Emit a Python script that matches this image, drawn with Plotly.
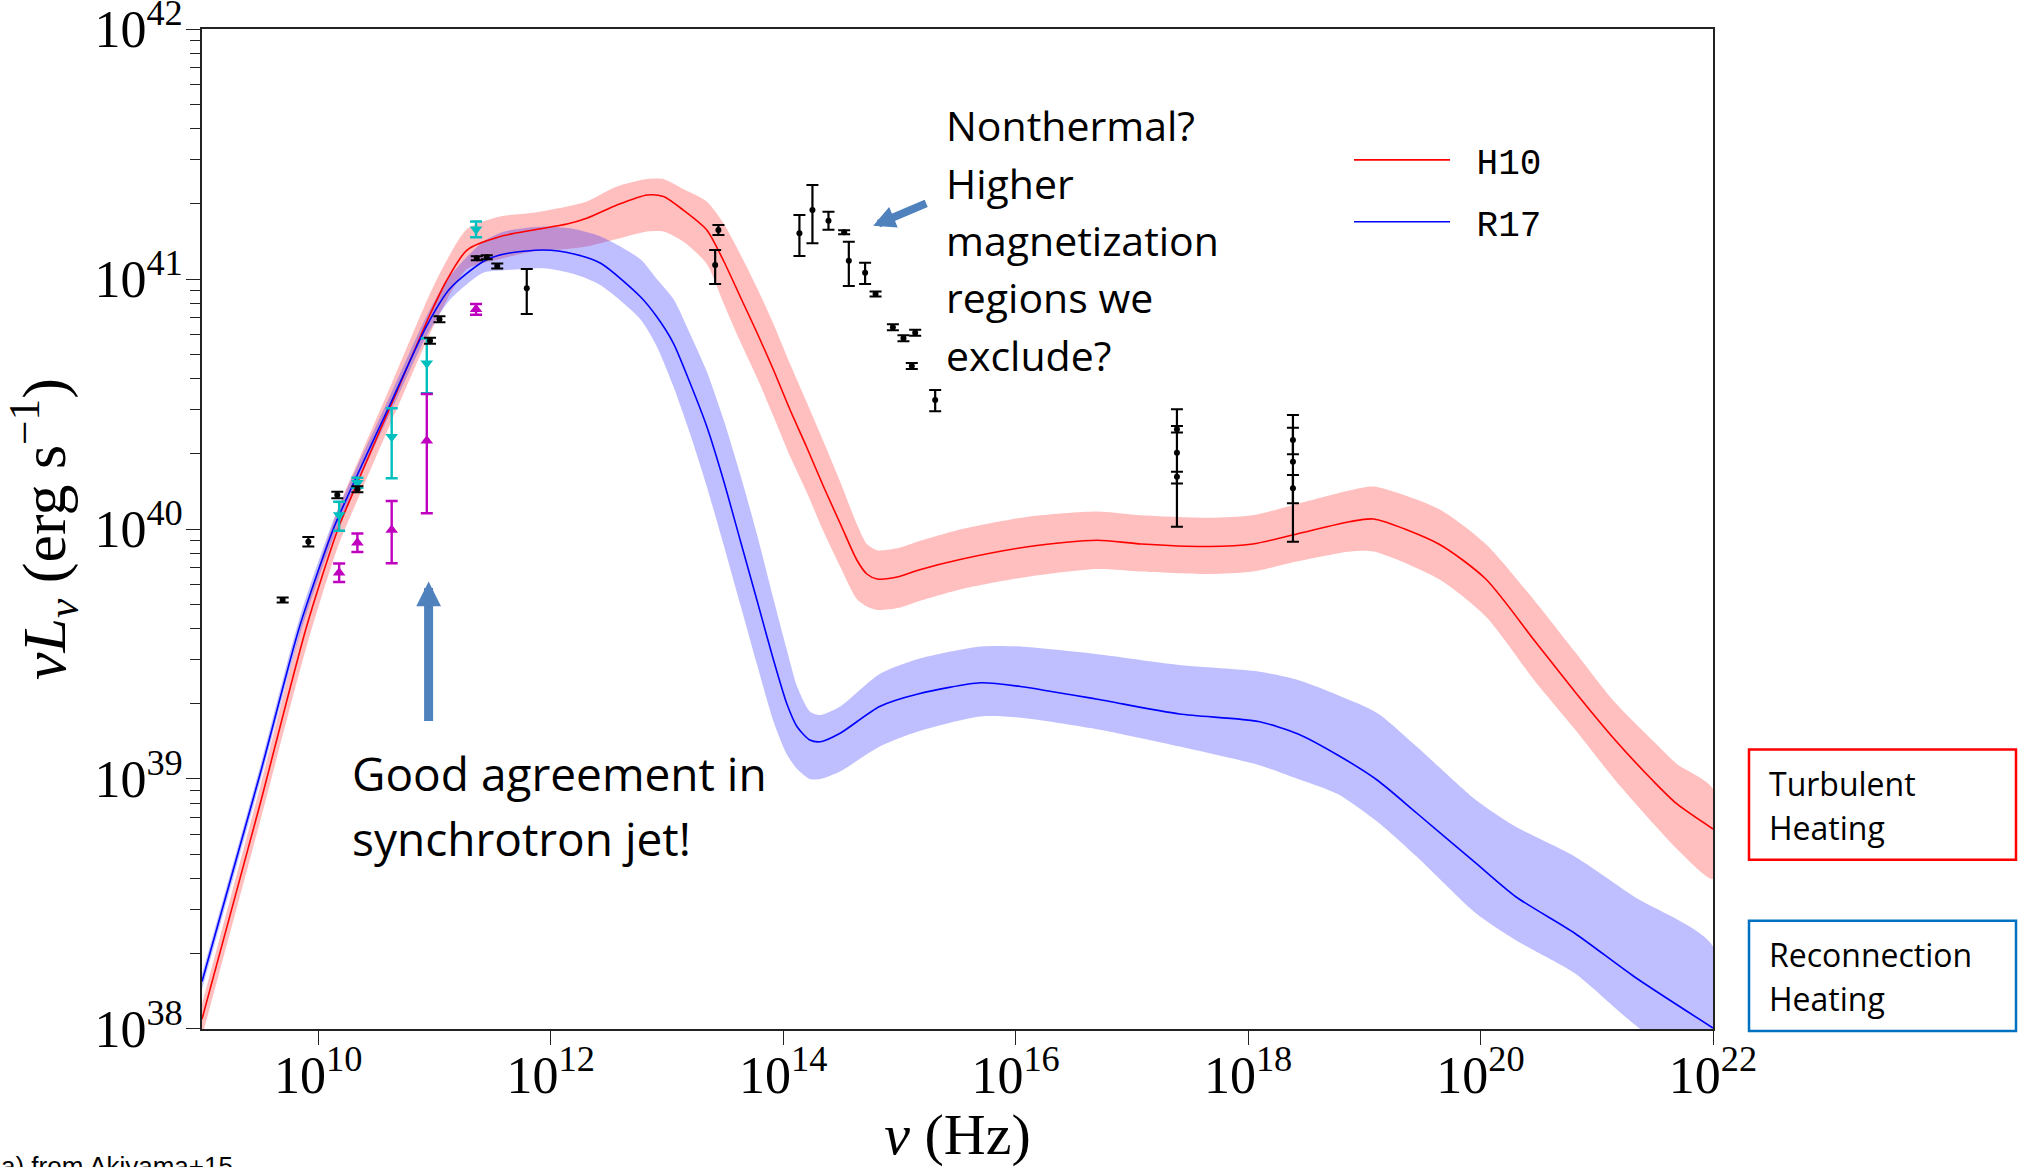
import plotly.graph_objects as go

# ---------------- data (log10 units) ----------------
# H10 model (turbulent heating): log10(nu/Hz), centre, band upper, band lower (log10 erg/s)
h10_lognu = [9.00, 9.50, 9.90, 10.17, 10.36, 10.63, 10.96, 11.10, 11.28, 11.565, 11.85, 12.14,
             12.31, 12.57, 12.83, 12.97, 13.14, 13.343, 13.49, 13.63, 13.78, 13.917, 14.06,
             14.20, 14.347, 14.49, 14.634, 14.72, 14.81, 15.00, 15.16, 15.54, 16.12, 16.70,
             17.08, 17.66, 18.04, 18.42, 18.88, 19.08, 19.64, 20.045, 20.47, 20.81, 21.15,
             21.49, 21.69, 22.00]
h10_mid = [38.04, 38.90, 39.61, 40.00, 40.21, 40.50, 40.856, 40.99, 41.116, 41.17, 41.196, 41.22,
           41.243, 41.296, 41.336, 41.33, 41.276, 41.196, 41.07, 40.93, 40.78, 40.636, 40.476,
           40.33, 40.17, 40.023, 39.876, 39.82, 39.80, 39.81, 39.835, 39.88, 39.93, 39.955,
           39.94, 39.93, 39.94, 39.98, 40.03, 40.04, 39.94, 39.80, 39.55, 39.35, 39.16,
           38.99, 38.90, 38.80]
h10_hi = [38.10, 38.97, 39.69, 40.08, 40.29, 40.58, 40.94, 41.07, 41.20, 41.25, 41.265, 41.29,
          41.31, 41.37, 41.40, 41.40, 41.36, 41.31, 41.22, 41.10, 40.96, 40.82, 40.66,
          40.51, 40.35, 40.19, 40.02, 39.94, 39.915, 39.925, 39.95, 40.00, 40.05, 40.07,
          40.055, 40.045, 40.055, 40.10, 40.155, 40.17, 40.08, 39.94, 39.71, 39.51, 39.31,
          39.15, 39.06, 38.96]
h10_lo = [37.97, 38.83, 39.53, 39.93, 40.14, 40.43, 40.78, 40.91, 41.04, 41.08, 41.11, 41.12,
          41.13, 41.16, 41.19, 41.19, 41.15, 41.06, 40.90, 40.75, 40.60, 40.45, 40.29,
          40.15, 39.99, 39.85, 39.72, 39.69, 39.676, 39.685, 39.71, 39.76, 39.81, 39.84,
          39.83, 39.82, 39.83, 39.87, 39.91, 39.91, 39.80, 39.65, 39.39, 39.20, 39.00,
          38.82, 38.72, 38.60]

# R17 model (reconnection heating)
r17_lognu = [9.00, 9.50, 9.84, 10.13, 10.33, 10.62, 10.93, 11.13, 11.42, 11.60, 11.94, 12.20,
             12.43, 12.77, 12.913, 13.056, 13.20, 13.343, 13.486, 13.63, 13.774, 13.917, 14.03,
             14.12, 14.23, 14.32, 14.49, 14.83, 15.16, 15.70, 16.04, 16.69, 17.41, 18.09,
             18.43, 18.77, 19.11, 19.45, 19.96, 20.30, 20.81, 21.32, 22.00]
r17_mid = [38.19, 39.02, 39.61, 40.00, 40.21, 40.50, 40.81, 40.96, 41.07, 41.10, 41.116, 41.10,
           41.063, 40.93, 40.849, 40.743, 40.583, 40.41, 40.196, 39.956, 39.716, 39.476, 39.303,
           39.209, 39.156, 39.149, 39.183, 39.29, 39.34, 39.385, 39.37, 39.32, 39.26, 39.23,
           39.18, 39.096, 38.996, 38.864, 38.663, 38.53, 38.383, 38.21, 38.004]
r17_hi = [38.22, 39.05, 39.645, 40.035, 40.245, 40.535, 40.85, 41.01, 41.15, 41.19, 41.21, 41.20,
          41.17, 41.08, 41.00, 40.92, 40.78, 40.63, 40.44, 40.22, 39.98, 39.72, 39.52,
          39.37, 39.27, 39.256, 39.29, 39.42, 39.48, 39.53, 39.53, 39.50, 39.456, 39.43,
          39.396, 39.336, 39.264, 39.13, 38.916, 38.81, 38.69, 38.53, 38.33]
r17_lo = [38.16, 38.99, 39.575, 39.965, 40.175, 40.465, 40.77, 40.915, 41.025, 41.035, 41.043, 41.02,
          40.975, 40.84, 40.73, 40.57, 40.38, 40.17, 39.94, 39.70, 39.46, 39.23, 39.10,
          39.04, 39.00, 39.00, 39.03, 39.13, 39.19, 39.25, 39.245, 39.20, 39.13, 39.056,
          39.00, 38.94, 38.83, 38.69, 38.463, 38.356, 38.223, 38.02, 37.80]

# Observed data (Akiyama+15): log10 nu, log10 nuL_nu, error up / down (dex)
obs_lognu = [9.694, 9.915, 10.164, 10.337, 10.962, 11.043, 11.364, 11.45, 11.54, 11.794,
             13.415, 13.443,
             14.14, 14.252, 14.39, 14.525, 14.565, 14.705, 14.795, 14.944, 15.035, 15.136, 15.107, 15.308,
             17.388, 17.388, 17.388, 18.386, 18.386, 18.386]
obs_logL = [39.716, 39.949, 40.136, 40.159, 40.753, 40.839, 41.083, 41.087, 41.052, 40.963,
            41.056, 41.196,
            41.183, 41.276, 41.233, 41.187, 41.073, 41.025, 40.94, 40.807, 40.763, 40.785, 40.652, 40.516,
            40.399, 40.305, 40.209, 40.356, 40.269, 40.163]
obs_up = [0.010, 0.019, 0.013, 0.012, 0.012, 0.012, 0.008, 0.008, 0.010, 0.077,
          0.060, 0.020,
          0.073, 0.100, 0.036, 0.008, 0.076, 0.040, 0.010, 0.012, 0.012, 0.012, 0.012, 0.040,
          0.013, 0.174, 0.020, 0.049, 0.187, 0.053]
obs_dn = [0.010, 0.019, 0.013, 0.012, 0.012, 0.012, 0.008, 0.008, 0.010, 0.103,
          0.076, 0.020,
          0.091, 0.133, 0.036, 0.008, 0.101, 0.045, 0.010, 0.012, 0.012, 0.012, 0.012, 0.045,
          0.013, 0.296, 0.027, 0.057, 0.320, 0.060]

# Limits (cyan: downward triangles, magenta: upward triangles)
cyan_lognu = [10.18, 10.337, 10.632, 10.934, 11.358]
cyan_logL = [40.056, 40.185, 40.369, 40.663, 41.199]
cyan_up = [0.053, 0.020, 0.114, 0.100, 0.031]
cyan_dn = [0.063, 0.020, 0.166, 0.120, 0.032]

mag_lognu = [10.18, 10.337, 10.632, 10.934, 11.358]
mag_logL = [39.825, 39.945, 39.996, 40.353, 40.879]
mag_up = [0.037, 0.037, 0.116, 0.187, 0.021]
mag_dn = [0.037, 0.037, 0.133, 0.290, 0.022]

y_decades = [38, 39, 40, 41, 42]
x_decades = [10, 12, 14, 16, 18, 20, 22]

# ---------------- figure ----------------
W, H = 2024, 1167
ML, MR, MT, MB = 202, 311, 29, 138
PW, PH = W - ML - MR, H - MT - MB


def px_x(x):
    return (x - ML) / PW


def px_y(y):
    return (H - MB - y) / PH


def lin(vals):
    return [10.0 ** v for v in vals]


def errs(logv, up, dn):
    plus = [10.0 ** (v + u) - 10.0 ** v for v, u in zip(logv, up)]
    minus = [10.0 ** v - 10.0 ** (v - d) for v, d in zip(logv, dn)]
    return plus, minus


fig = go.Figure()

# bands
fig.add_trace(go.Scatter(
    x=lin(h10_lognu + h10_lognu[::-1]), y=lin(h10_hi + h10_lo[::-1]),
    mode='lines', fill='toself', fillcolor='rgba(255,0,0,0.25)',
    line=dict(width=0, shape='spline', smoothing=0.7), hoverinfo='skip', showlegend=False))
fig.add_trace(go.Scatter(
    x=lin(r17_lognu + r17_lognu[::-1]), y=lin(r17_hi + r17_lo[::-1]),
    mode='lines', fill='toself', fillcolor='rgba(0,0,255,0.25)',
    line=dict(width=0, shape='spline', smoothing=0.7), hoverinfo='skip', showlegend=False))

# model lines
fig.add_trace(go.Scatter(x=lin(h10_lognu), y=lin(h10_mid), mode='lines', name='\u00a0H10',
                         line=dict(color='#ff0000', width=1.6, shape='spline', smoothing=0.7),
                         legendgroup='a'))
fig.add_trace(go.Scatter(x=lin(r17_lognu), y=lin(r17_mid), mode='lines', name='\u00a0R17',
                         line=dict(color='#0000ff', width=1.6, shape='spline', smoothing=0.7),
                         legendgroup='b'))

# data points
p, m = errs(cyan_logL, cyan_up, cyan_dn)
fig.add_trace(go.Scatter(x=lin(cyan_lognu), y=lin(cyan_logL), mode='markers', showlegend=False,
                         marker=dict(symbol='triangle-down', size=11, color='#00bfbf'),
                         error_y=dict(type='data', symmetric=False, array=p, arrayminus=m,
                                      color='#00bfbf', thickness=2.4, width=6)))
p, m = errs(mag_logL, mag_up, mag_dn)
fig.add_trace(go.Scatter(x=lin(mag_lognu), y=lin(mag_logL), mode='markers', showlegend=False,
                         marker=dict(symbol='triangle-up', size=11, color='#bf00bf'),
                         error_y=dict(type='data', symmetric=False, array=p, arrayminus=m,
                                      color='#bf00bf', thickness=2.4, width=6)))
p, m = errs(obs_logL, obs_up, obs_dn)
fig.add_trace(go.Scatter(x=lin(obs_lognu), y=lin(obs_logL), mode='markers', showlegend=False,
                         marker=dict(symbol='circle', size=6, color='black'),
                         error_y=dict(type='data', symmetric=False, array=p, arrayminus=m,
                                      color='black', thickness=2.2, width=6)))

axis_col = '#222222'
serif = 'Liberation Serif'

minor_y = [k * 10.0 ** n for n in range(38, 42) for k in range(2, 10)]

fig.update_yaxes(
    type='log', range=[37.9999, 42.0001], autorange=False,
    tickvals=lin(y_decades), ticktext=[f'10<sup>{d}</sup>' for d in y_decades],
    ticks='outside', ticklen=14, tickwidth=1.3, tickcolor=axis_col,
    ticklabelstandoff=-7, ticklabeloverflow='allow',
    showline=True, linecolor=axis_col, linewidth=1.6, mirror=True,
    showgrid=False, zeroline=False,
    minor=dict(tickvals=minor_y, ticks='outside', ticklen=10, tickwidth=1.1,
               tickcolor=axis_col, showgrid=False),
    tickfont=dict(family=serif, size=52, color='black'),
    title=dict(text='<i>νL</i><sub><i>ν</i></sub> (erg s<sup>−1</sup>)',
               font=dict(family=serif, size=62, color='black'), standoff=10),
    automargin=False)

fig.update_xaxes(
    type='log', range=[9, 22], autorange=False,
    tickvals=lin(x_decades), ticktext=[f'10<sup>{d}</sup>' for d in x_decades],
    ticks='outside', ticklen=14, tickwidth=1.3, tickcolor=axis_col,
    ticklabelstandoff=-14, ticklabeloverflow='allow',
    showline=True, linecolor=axis_col, linewidth=1.6, mirror=True,
    showgrid=False, zeroline=False,
    tickfont=dict(family=serif, size=52, color='black'),
    title=dict(text='<i>ν</i> (Hz)', font=dict(family=serif, size=58, color='black'), standoff=8),
    automargin=False)

sans = 'Open Sans'
annotations = []


def txt(s, x, y, size, family=sans, xanchor='left'):
    annotations.append(dict(text=s, x=px_x(x), y=px_y(y), xref='paper', yref='paper',
                            xanchor=xanchor, yanchor='middle', showarrow=False,
                            font=dict(family=family, size=size, color='black')))


for i, s in enumerate(['Nonthermal?', 'Higher', 'magnetization', 'regions we', 'exclude?']):
    txt(s, 944, 125.3 + 57.4 * i, 41)
txt('Good agreement in', 350, 773.3, 46)
txt('synchrotron jet!', 350, 838.3, 46)
txt('Turbulent', 1767, 783.5, 32)
txt('Heating', 1767, 827, 32)
txt('Reconnection', 1767, 954.5, 32)
txt('Heating', 1767, 998.2, 32)
txt('a) from Akiyama+15', -1, 1166, 26, family='Liberation Sans')

arrow_col = '#4f81bd'
annotations.append(dict(text='', x=px_x(428.6), y=px_y(581.5), xref='paper', yref='paper',
                        showarrow=True, ax=0, ay=141, arrowhead=2, arrowsize=0.55,
                        arrowwidth=9, arrowcolor=arrow_col, standoff=0))
annotations.append(dict(text='', x=px_x(873.2), y=px_y(225.8), xref='paper', yref='paper',
                        showarrow=True, ax=54.5, ay=-23, arrowhead=2, arrowsize=0.55,
                        arrowwidth=8, arrowcolor=arrow_col, standoff=0))

shapes = [
    dict(type='rect', xref='paper', yref='paper', x0=px_x(1749), x1=px_x(2016),
         y0=px_y(859.7), y1=px_y(749.5), line=dict(color='#ff0000', width=2.5)),
    dict(type='rect', xref='paper', yref='paper', x0=px_x(1749), x1=px_x(2016),
         y0=px_y(1031), y1=px_y(920.7), line=dict(color='#0070c0', width=2.5)),
]

fig.update_layout(
    width=W, height=H, margin=dict(l=ML, r=MR, t=MT, b=MB, pad=0),
    paper_bgcolor='white', plot_bgcolor='white',
    annotations=annotations, shapes=shapes,
    showlegend=True,
    legend=dict(x=px_x(1349), y=px_y(130), xanchor='left', yanchor='top',
                bgcolor='rgba(0,0,0,0)', borderwidth=0,
                font=dict(family='Liberation Mono', size=36, color='black'),
                itemwidth=96, tracegroupgap=12, traceorder='grouped'),
)

fig.write_html('out.html')
